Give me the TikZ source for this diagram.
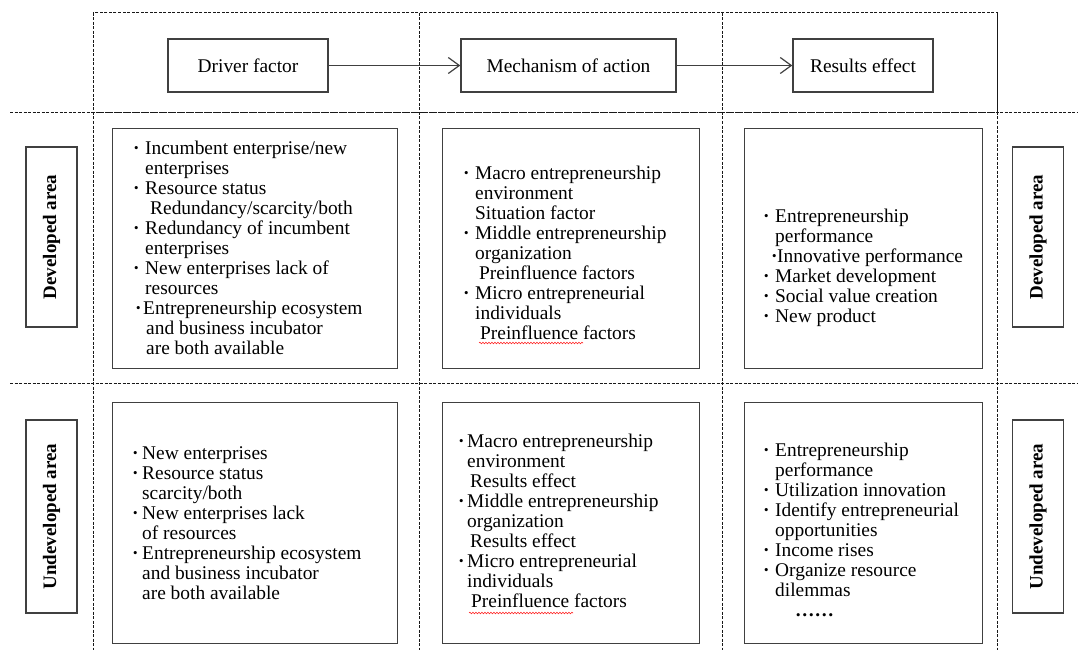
\documentclass[tikz,border=0pt]{standalone}
\usepackage{fontspec}
\setmainfont{Liberation Serif}
\usetikzlibrary{arrows.meta,decorations.pathmorphing}
\newcommand{\bt}[1][12pt]{\makebox[#1][l]{\textbf{·}}}
\newcommand{\ind}[1][12pt]{\hspace*{#1}}
\newcommand{\fst}{\rule{0pt}{14pt}}
\begin{document}
\begin{tikzpicture}[x=1pt,y=-1pt,
  every node/.style={font=\fontsize{19.4}{20}\selectfont},
  dashline/.style={draw=black!90, line width=1pt, dash pattern=on 3pt off 1.5pt},
  box/.style={draw=black!75, line width=1.4pt, inner sep=0pt},
  listtext/.style={anchor=north west, inner sep=0pt, align=left},
  sidelabel/.style={box, rotate=90, font=\fontsize{19}{20}\selectfont\bfseries},
  arr/.style={draw=black!75, line width=1.2pt, -{Straight Barb[length=11pt,width=16pt,line width=1.2pt]}},
  wavy/.style={draw=red!85, line width=0.6pt, decorate, decoration={snake, amplitude=0.8pt, segment length=3pt}}
]
\useasboundingbox (0,0) rectangle (1078,650);
% dashed grid
\draw[dashline] (93,13) rectangle (997,113);
\draw[dashline] (10,113) -- (1078,113);
\draw[dashline] (10,383) -- (1078,383);
\foreach \x in {93,419,722,997} \draw[dashline] (\x,13) -- (\x,650);

% header
\node[box, minimum width=160pt, minimum height=53pt] (hd) at (248,65.5) {Driver factor};
\node[box, minimum width=215pt, minimum height=53pt] (hm) at (568.5,65.5) {Mechanism of action};
\node[box, minimum width=140pt, minimum height=53pt] (hr) at (863,65.5) {Results effect};
\draw[arr] (hd.east) -- (hm.west);
\draw[arr] (hm.east) -- (hr.west);

% side labels
\node[sidelabel, minimum width=180pt, minimum height=51pt] (ld) at (51.5,237) {Developed area};
\node[sidelabel, minimum width=193pt, minimum height=51pt] (lu) at (51.5,516.5) {Undeveloped area};
\node[sidelabel, minimum width=180pt, minimum height=51pt] (rd) at (1038,237) {Developed area};
\node[sidelabel, minimum width=193pt, minimum height=51pt] (ru) at (1038,516.5) {Undeveloped area};

% content boxes
\node[box, anchor=north west, minimum width=285pt, minimum height=240pt] (bd1) at (112,128) {};
\node[box, anchor=north west, minimum width=257pt, minimum height=240pt] (bd2) at (442,128) {};
\node[box, anchor=north west, minimum width=238pt, minimum height=240pt] (bd3) at (744,128) {};
\node[box, anchor=north west, minimum width=285pt, minimum height=241pt] (bu1) at (112,402) {};
\node[box, anchor=north west, minimum width=257pt, minimum height=241pt] (bu2) at (442,402) {};
\node[box, anchor=north west, minimum width=238pt, minimum height=241pt] (bu3) at (744,402) {};

% texts developed
\node[listtext] (td1) at (133,140) {\fst\bt Incumbent enterprise/new\\
\ind enterprises\\
\bt Resource status\\
\ind[17pt]Redundancy/scarcity/both\\
\bt Redundancy of incumbent\\
\ind enterprises\\
\bt New enterprises lack of\\
\ind resources\\
\ind[2pt]\bt[8pt]Entrepreneurship ecosystem\\
\ind[13pt]and business incubator\\
\ind[13pt]are both available};

\node[listtext] (td2) at (463,165) {\fst\bt Macro entrepreneurship\\
\ind environment\\
\ind Situation factor\\
\bt Middle entrepreneurship\\
\ind organization\\
\ind[16pt]Preinfluence factors\\
\bt Micro entrepreneurial\\
\ind individuals\\
\ind[17pt]Preinfluence factors};

\node[listtext] (td3) at (763,208) {\fst\bt Entrepreneurship\\
\ind performance\\
\ind[8pt]\makebox[6pt][l]{\textbf{·}}Innovative performance\\
\bt Market development\\
\bt Social value creation\\
\bt New product};

% texts undeveloped
\node[listtext] (tu1) at (132,445) {\fst\bt[10pt]New enterprises\\
\bt[10pt]Resource status\\
\ind[10pt]scarcity/both\\
\bt[10pt]New enterprises lack\\
\ind[10pt]of resources\\
\bt[10pt]Entrepreneurship ecosystem\\
\ind[10pt]and business incubator\\
\ind[10pt]are both available};

\node[listtext] (tu2) at (458,433) {\fst\bt[9pt]Macro entrepreneurship\\
\ind[9pt]environment\\
\ind[12pt]Results effect\\
\bt[9pt]Middle entrepreneurship\\
\ind[9pt]organization\\
\ind[12pt]Results effect\\
\bt[9pt]Micro entrepreneurial\\
\ind[9pt]individuals\\
\ind[13pt]Preinfluence factors};

\node[listtext] (tu3) at (763,442) {\fst\bt Entrepreneurship\\
\ind performance\\
\bt Utilization innovation\\
\bt Identify entrepreneurial\\
\ind opportunities\\
\bt Income rises\\
\bt Organize resource\\
\ind dilemmas\\
\ind[32pt]\textbf{……}};

% spell-check underlines
\coordinate (w1a) at (479,343); \coordinate (w1b) at (583,343);
\coordinate (w2a) at (469,613); \coordinate (w2b) at (573,613);
\draw[wavy] (w1a) -- (w1b);
\draw[wavy] (w2a) -- (w2b);
\end{tikzpicture}
\end{document}
